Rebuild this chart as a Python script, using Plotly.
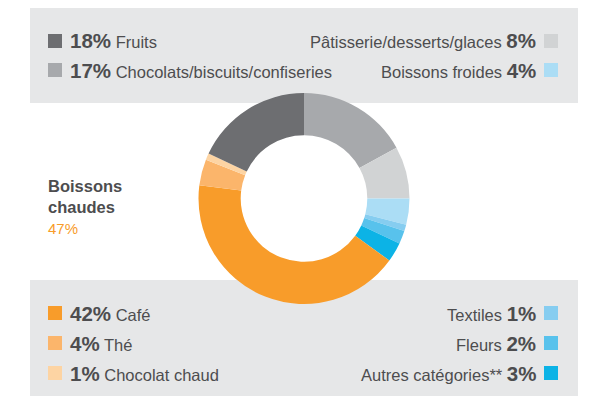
import plotly.graph_objects as go

# ---- data ----
labels = ["Chocolats/biscuits/confiseries", "Pâtisserie/desserts/glaces", "Boissons froides",
          "Textiles", "Fleurs", "Autres catégories**", "Café", "Thé", "Chocolat chaud", "Fruits"]
values = [17, 8, 4, 1, 2, 3, 42, 4, 1, 18]
colors = ["#a7a9ac", "#d1d3d4", "#abddf5", "#86cdf0", "#58c2ec", "#0cb3e6",
          "#f89c2a", "#fbb56b", "#fdd4a3", "#6d6e71"]

top_left = ["Fruits", "Chocolats/biscuits/confiseries"]
top_right = ["Pâtisserie/desserts/glaces", "Boissons froides"]
bottom_left = ["Café", "Thé", "Chocolat chaud"]
bottom_right = ["Textiles", "Fleurs", "Autres catégories**"]
group_name = "Boissons chaudes"
group_members = ["Café", "Thé", "Chocolat chaud"]

W, H = 605, 399
TXT = "#4d4d4f"
BOX = "#e6e7e8"
FONT = "Liberation Sans, Arial, sans-serif"

val = dict(zip(labels, values))
col = dict(zip(labels, colors))

fig = go.Figure()

cx, cy, r = 304, 198.5, 105.5
fig.add_trace(go.Pie(
    labels=labels, values=values, sort=False, direction="clockwise", rotation=0,
    hole=0.6, marker=dict(colors=colors, line=dict(width=0)),
    textinfo="none", hoverinfo="label+percent", showlegend=False,
    domain=dict(x=[(cx - r) / W, (cx + r) / W], y=[(H - cy - r) / H, (H - cy + r) / H]),
))

shapes = []
annotations = []

def px(x):
    return x / W

def py(y):
    return 1 - y / H

# background boxes
for (x0, y0, x1, y1) in [(30, 8, 578, 103), (30, 280, 578, 396)]:
    shapes.append(dict(type="rect", xref="paper", yref="paper", x0=px(x0), x1=px(x1),
                       y0=py(y1), y1=py(y0), fillcolor=BOX, line=dict(width=0), layer="below"))

SQ = 14
def item(name, yc, side):
    pct = f"<span style='font-size:20.5px'><b>{val[name]}%</b></span>"
    lab = f"<span style='font-size:16.5px'>{name}</span>"
    if side == "left":
        sx0 = 48
        text = f"{pct} {lab}"
        tx, anchor = 68, "left"
    else:
        sx0 = 544
        text = f"{lab} {pct}"
        tx, anchor = 538, "right"
    shapes.append(dict(type="rect", xref="paper", yref="paper", x0=px(sx0), x1=px(sx0 + SQ),
                       y0=py(yc + SQ / 2), y1=py(yc - SQ / 2), fillcolor=col[name], line=dict(width=0)))
    annotations.append(dict(xref="paper", yref="paper", x=px(tx), y=py(yc), xanchor=anchor,
                            yanchor="middle", text=text, showarrow=False,
                            font=dict(family=FONT, color=TXT, size=16.5)))

for i, n in enumerate(top_left):
    item(n, 41 + 29 * i, "left")
for i, n in enumerate(top_right):
    item(n, 41 + 29 * i, "right")
for i, n in enumerate(bottom_left):
    item(n, 313 + 30 * i, "left")
for i, n in enumerate(bottom_right):
    item(n, 313 + 30 * i, "right")

group_total = sum(val[n] for n in group_members)
words = group_name.split(" ")
annotations.append(dict(xref="paper", yref="paper", x=px(46), y=py(196), xanchor="left",
                        yanchor="middle", align="left", showarrow=False,
                        text=f"<b>{words[0]}<br>{' '.join(words[1:])}</b>",
                        font=dict(family=FONT, color=TXT, size=16.5)))
annotations.append(dict(xref="paper", yref="paper", x=px(46), y=py(228), xanchor="left", yanchor="middle",
                        showarrow=False, text=f"{group_total}%",
                        font=dict(family=FONT, color="#f89c2a", size=15)))

fig.update_layout(width=W, height=H, margin=dict(l=0, r=0, t=0, b=0),
                  paper_bgcolor="white", plot_bgcolor="white",
                  shapes=shapes, annotations=annotations)

fig.write_html("out.html")
